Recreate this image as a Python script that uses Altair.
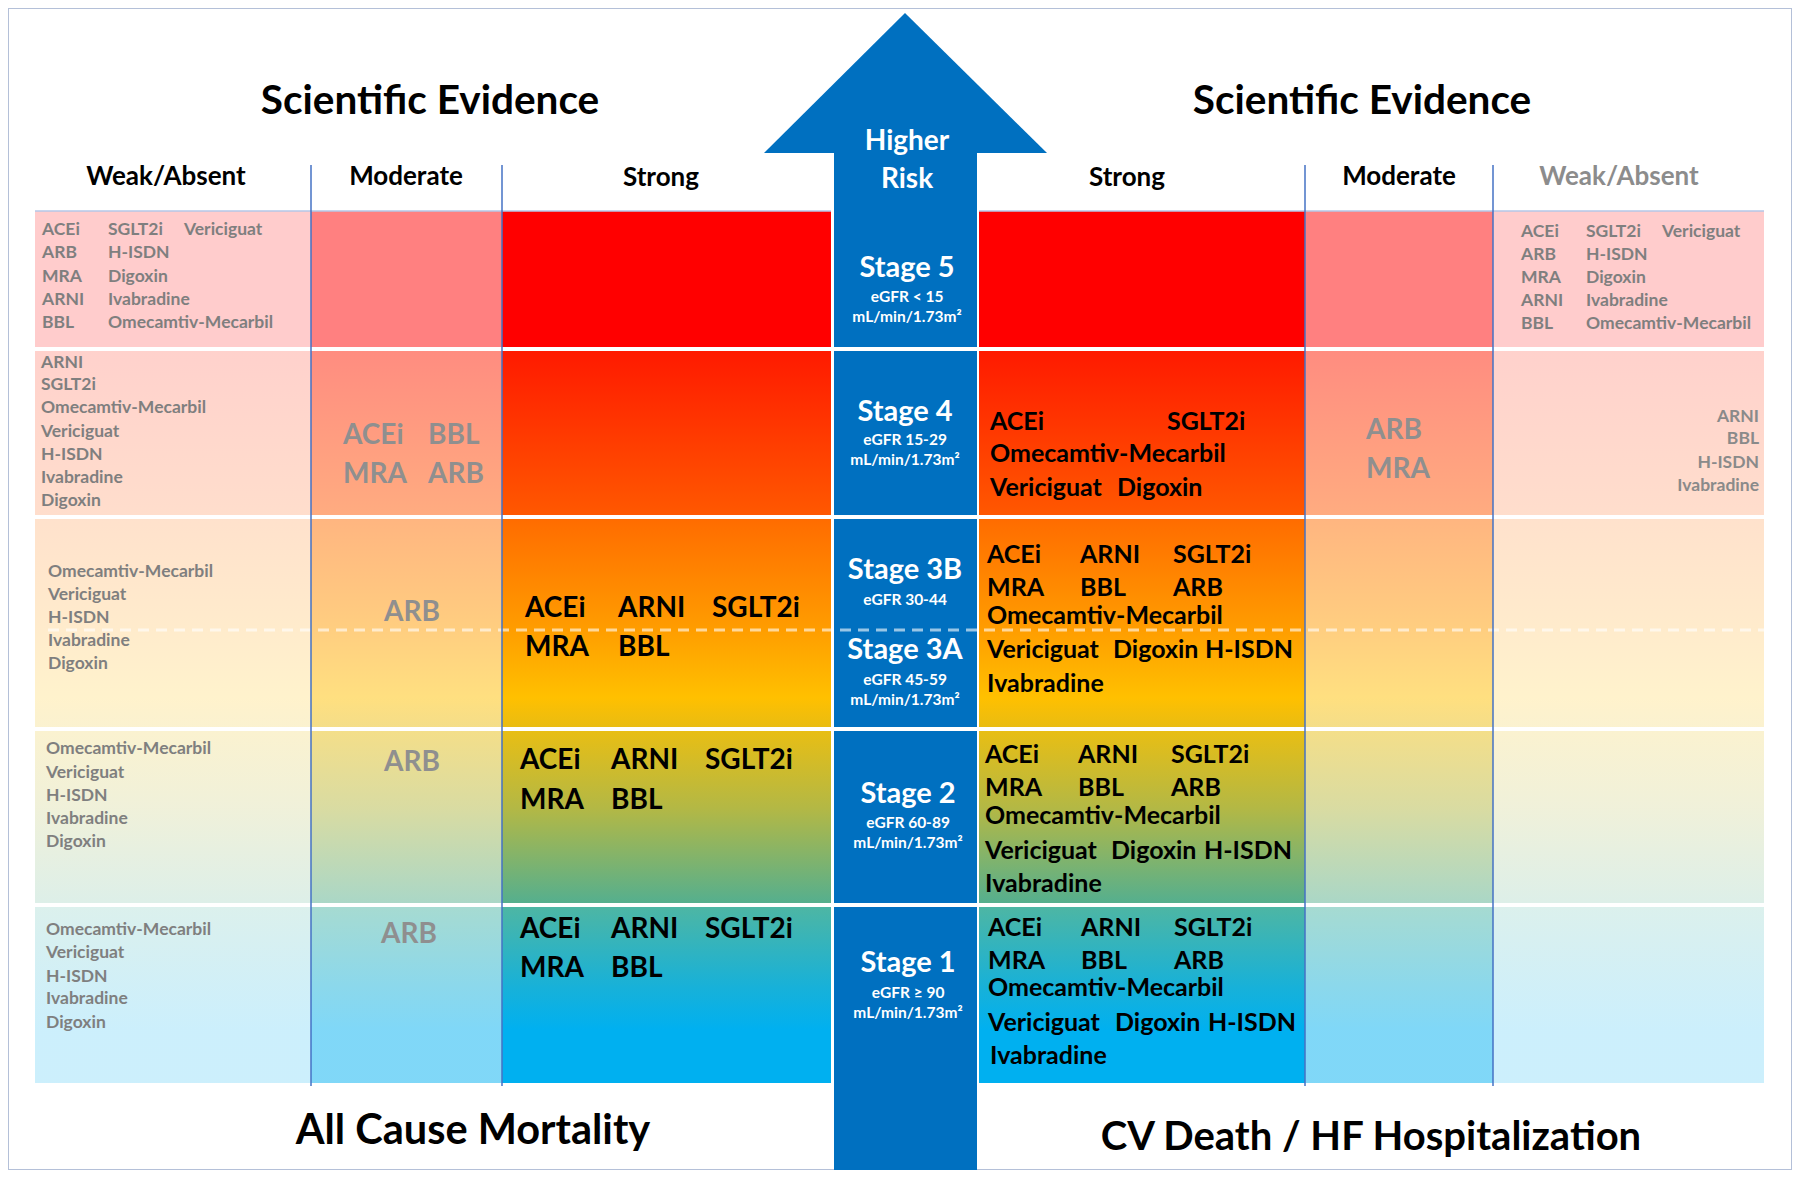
import altair as alt
import pandas as pd

FONT = "Lato"
W, H = 1784, 1162
XD = [8, 8 + W]
YD = [8, 8 + H]

# ---------------- layout grid (reference pixel coordinates) ----------------
col_left = [35, 311, 502, 979, 1305, 1493]
col_right = [311, 502, 831, 1305, 1493, 1764]
col_opacity = [0.2, 0.5, 1.0, 1.0, 0.5, 0.2]      # weak / moderate / strong tints
row_top = [211, 351, 519, 731, 907]
row_bottom = [347, 515, 727, 903, 1083]

# vertical gradient stops of the "strong" column, one list per stage row (5 -> 1)
row_stops = [
    [(0.0, "#FF0000"), (1.0, "#FF0000")],
    [(0.0, "#FF1A00"), (1.0, "#FF5800")],
    [(0.0, "#FF6C00"), (0.5, "#FF9A00"), (0.86, "#FFC000"), (1.0, "#E9BC12")],
    [(0.0, "#E8BE14"), (0.45, "#B3B845"), (1.0, "#55AF8E")],
    [(0.0, "#4DB6A4"), (0.45, "#18B1D8"), (0.7, "#00B0F0"), (1.0, "#00B0F0")],
]

# arrow
arrow_head_x = [764, 905, 1047]
arrow_head_y = [153, 13, 153]
shaft_x = [834, 977]
shaft_top = [153, 351, 519, 731, 907]
shaft_bottom = [347, 515, 727, 903, 1178]

divider_x = [311, 502, 1305, 1493]
divider_y = [165, 1086]
dash_y = 630
dash_x = [48, 1764]

# ---------------- texts: (text, x, y) ----------------
titles_top = [("Scientific Evidence", 430, 102), ("Scientific Evidence", 1362, 102)]
title_bottom_left = [("All Cause Mortality", 473, 1132)]
title_bottom_right = [("CV Death / HF Hospitalization", 1371, 1138)]
headers_black = [("Weak/Absent", 166, 177), ("Moderate", 406, 177), ("Strong", 661, 178),
                 ("Strong", 1127, 178), ("Moderate", 1399, 177)]
headers_gray = [("Weak/Absent", 1619, 177)]

weak_left = [
    ("ACEi", 42, 230), ("ARB", 42, 253), ("MRA", 42, 277), ("ARNI", 42, 300), ("BBL", 42, 323),
    ("SGLT2i", 108, 230), ("H-ISDN", 108, 253), ("Digoxin", 108, 277), ("Ivabradine", 108, 300),
    ("Omecamtiv-Mecarbil", 108, 323), ("Vericiguat", 184, 230),
    ("ARNI", 41, 363), ("SGLT2i", 41, 385), ("Omecamtiv-Mecarbil", 41, 408), ("Vericiguat", 41, 432),
    ("H-ISDN", 41, 455), ("Ivabradine", 41, 478), ("Digoxin", 41, 501),
    ("Omecamtiv-Mecarbil", 48, 572), ("Vericiguat", 48, 595), ("H-ISDN", 48, 618),
    ("Ivabradine", 48, 641), ("Digoxin", 48, 664),
    ("Omecamtiv-Mecarbil", 46, 749), ("Vericiguat", 46, 773), ("H-ISDN", 46, 796),
    ("Ivabradine", 46, 819), ("Digoxin", 46, 842),
    ("Omecamtiv-Mecarbil", 46, 930), ("Vericiguat", 46, 953), ("H-ISDN", 46, 977),
    ("Ivabradine", 46, 999), ("Digoxin", 46, 1023),
    ("ACEi", 1521, 232), ("ARB", 1521, 255), ("MRA", 1521, 278), ("ARNI", 1521, 301), ("BBL", 1521, 324),
    ("SGLT2i", 1586, 232), ("H-ISDN", 1586, 255), ("Digoxin", 1586, 278), ("Ivabradine", 1586, 301),
    ("Omecamtiv-Mecarbil", 1586, 324), ("Vericiguat", 1662, 232),
]
weak_right_aligned = [("ARNI", 1759, 417), ("BBL", 1759, 439), ("H-ISDN", 1759, 463), ("Ivabradine", 1759, 486)]

moderate_left = [("ACEi", 343, 436), ("BBL", 428, 436), ("MRA", 343, 475), ("ARB", 428, 475),
                 ("ARB", 1366, 431), ("MRA", 1366, 470)]
moderate_center = [("ARB", 412, 613), ("ARB", 412, 763), ("ARB", 409, 935)]

strong_left_side = [
    ("ACEi", 525, 609), ("ARNI", 618, 609), ("SGLT2i", 712, 609), ("MRA", 525, 648), ("BBL", 618, 648),
    ("ACEi", 520, 761), ("ARNI", 611, 761), ("SGLT2i", 705, 761), ("MRA", 520, 801), ("BBL", 611, 801),
    ("ACEi", 520, 930), ("ARNI", 611, 930), ("SGLT2i", 705, 930), ("MRA", 520, 969), ("BBL", 611, 969),
]
strong_right_side = [
    ("ACEi", 990, 422), ("SGLT2i", 1167, 422), ("Omecamtiv-Mecarbil", 990, 454),
    ("Vericiguat", 990, 488), ("Digoxin", 1117, 488),
    ("ACEi", 987, 555), ("ARNI", 1080, 555), ("SGLT2i", 1173, 555),
    ("MRA", 987, 588), ("BBL", 1080, 588), ("ARB", 1173, 588),
    ("Omecamtiv-Mecarbil", 987, 616), ("Vericiguat", 987, 650), ("Digoxin", 1113, 650),
    ("H-ISDN", 1205, 650), ("Ivabradine", 987, 684),
    ("ACEi", 985, 755), ("ARNI", 1078, 755), ("SGLT2i", 1171, 755),
    ("MRA", 985, 788), ("BBL", 1078, 788), ("ARB", 1171, 788),
    ("Omecamtiv-Mecarbil", 985, 816), ("Vericiguat", 985, 851), ("Digoxin", 1111, 851),
    ("H-ISDN", 1204, 851), ("Ivabradine", 985, 884),
    ("ACEi", 988, 928), ("ARNI", 1081, 928), ("SGLT2i", 1174, 928),
    ("MRA", 988, 961), ("BBL", 1081, 961), ("ARB", 1174, 961),
    ("Omecamtiv-Mecarbil", 988, 988), ("Vericiguat", 988, 1023), ("Digoxin", 1115, 1023),
    ("H-ISDN", 1208, 1023), ("Ivabradine", 990, 1056),
]
arrow_big = [("Higher", 907, 142), ("Risk", 907, 180)]
stage_labels = [("Stage 5", 907, 268), ("Stage 4", 905, 412), ("Stage 3B", 905, 570),
                ("Stage 3A", 905, 650), ("Stage 2", 908, 794), ("Stage 1", 908, 963)]
stage_notes = [("eGFR < 15", 907, 297), ("mL/min/1.73m²", 907, 317),
               ("eGFR 15-29", 905, 440), ("mL/min/1.73m²", 905, 460),
               ("eGFR 30-44", 905, 600),
               ("eGFR 45-59", 905, 680), ("mL/min/1.73m²", 905, 700),
               ("eGFR 60-89", 908, 823), ("mL/min/1.73m²", 908, 843),
               ("eGFR ≥ 90", 908, 993), ("mL/min/1.73m²", 908, 1013)]


# ---------------- helpers ----------------
def X(f):
    return alt.X(f, type="quantitative", scale=alt.Scale(domain=XD, nice=False, zero=False), axis=None)


def Y(f):
    return alt.Y(f, type="quantitative", scale=alt.Scale(domain=YD, nice=False, zero=False, reverse=True), axis=None)


def text_df(items, size, color):
    return pd.DataFrame({"t": [i[0] for i in items], "x": [i[1] for i in items],
                         "y": [i[2] for i in items], "fs": size, "c": color})


layers = []

# gradient cells
for r in range(5):
    df = pd.DataFrame({"x": col_left, "x2": col_right, "y": [row_top[r]] * 6,
                       "y2": [row_bottom[r]] * 6, "op": col_opacity})
    grad = alt.LinearGradient(
        gradient="linear",
        stops=[alt.GradientStop(offset=o, color=c) for o, c in row_stops[r]],
        x1=0, x2=0, y1=0, y2=1)
    layers.append(alt.Chart(df).mark_rect(fill=grad, strokeWidth=0).encode(
        x=X("x"), x2="x2", y=Y("y"), y2="y2", opacity=alt.Opacity("op:Q", scale=None)))

# top border line of the table
top_df = pd.DataFrame({"x": [col_left[0], col_left[3]], "x2": [col_right[2], col_right[5]],
                       "y": [row_top[0], row_top[0]]})
layers.append(alt.Chart(top_df).mark_rule(color="#B4C7E7", strokeWidth=1.5).encode(
    x=X("x"), x2="x2", y=Y("y")))

# arrow shaft segments
shaft_df = pd.DataFrame({"x": [shaft_x[0]] * 5, "x2": [shaft_x[1]] * 5, "y": shaft_top, "y2": shaft_bottom})
layers.append(alt.Chart(shaft_df).mark_rect(color="#0070C0", strokeWidth=0).encode(
    x=X("x"), x2="x2", y=Y("y"), y2="y2"))

# arrow head
head_df = pd.DataFrame({"x": arrow_head_x, "y": arrow_head_y, "y2": [arrow_head_y[0]] * 3})
layers.append(alt.Chart(head_df).mark_area(color="#0070C0").encode(
    x=X("x"), y=Y("y"), y2="y2"))

# dashed separator between 3B and 3A
dash_df = pd.DataFrame({"x": [dash_x[0]], "x2": [dash_x[1]], "y": [dash_y]})
layers.append(alt.Chart(dash_df).mark_rule(color="white", opacity=0.6, strokeWidth=3,
                                           strokeDash=[11, 7]).encode(x=X("x"), x2="x2", y=Y("y")))

# vertical dividers
div_df = pd.DataFrame({"x": divider_x, "y": [divider_y[0]] * 4, "y2": [divider_y[1]] * 4})
layers.append(alt.Chart(div_df).mark_rule(color="#4472C4", strokeWidth=1.5).encode(
    x=X("x"), y=Y("y"), y2="y2"))

# texts
groups = [
    (titles_top, 40.5, "#000000", "center"),
    (title_bottom_left, 41.5, "#000000", "center"),
    (title_bottom_right, 40, "#000000", "center"),
    (headers_black, 26, "#000000", "center"),
    (headers_gray, 26, "#8C8C8C", "center"),
    (weak_left, 17.5, "#7F7F7F", "left"),
    (weak_right_aligned, 17.5, "#8A8A8A", "right"),
    (moderate_left, 28, "#8F8F8F", "left"),
    (moderate_center, 28, "#8F8F8F", "center"),
    (strong_left_side, 28, "#000000", "left"),
    (strong_right_side, 25, "#000000", "left"),
    (arrow_big, 28, "#FFFFFF", "center"),
    (stage_labels, 29, "#FFFFFF", "center"),
    (stage_notes, 15.5, "#FFFFFF", "center"),
]
for items, size, color, align in groups:
    layers.append(alt.Chart(text_df(items, size, color)).mark_text(
        font=FONT, fontWeight="bold", align=align, baseline="middle").encode(
        x=X("x"), y=Y("y"), text="t:N",
        size=alt.Size("fs:Q", scale=None), color=alt.Color("c:N", scale=None)))

chart = alt.layer(*layers).properties(
    width=W, height=H, padding=0, background="white",
    autosize=alt.AutoSizeParams(type="none"),
).configure_view(stroke="#B4C0D8", strokeWidth=2)

chart.save("out.html", embed_options={"renderer": "svg", "actions": False})
